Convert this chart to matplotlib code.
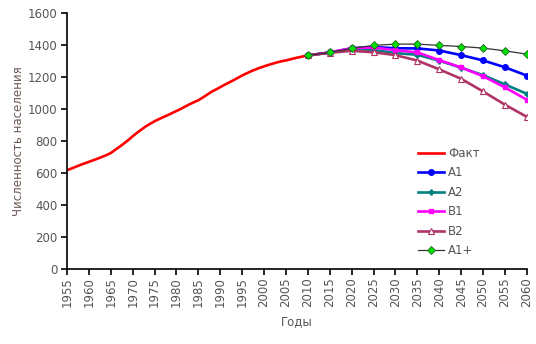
import numpy as np
import matplotlib
matplotlib.use("Agg")
import matplotlib.pyplot as plt

plt.rcParams.update({"font.family": "DejaVu Sans", "font.size": 8.5})

# Фактическая численность (ежегодно), млн
fact_years = np.arange(1955, 2011)
fact = [618, 628, 639, 650, 660, 670, 680, 690, 701, 712,
        725, 745, 764, 785, 806, 830, 852, 872, 892, 908,
        924, 937, 950, 962, 975, 988, 1001, 1016, 1030, 1043,
        1055, 1072, 1090, 1108, 1122, 1137, 1152, 1166, 1180, 1195,
        1210, 1223, 1236, 1247, 1258, 1267, 1276, 1284, 1292, 1299,
        1304, 1311, 1318, 1324, 1330, 1335]

# Сценарии прогноза, шаг 5 лет
scen_years = np.arange(2010, 2061, 5)
a1 = [1335, 1354, 1380, 1388, 1380, 1379, 1366, 1337, 1304, 1261, 1209]
a2 = [1335, 1354, 1375, 1370, 1350, 1339, 1302, 1258, 1212, 1154, 1095]
b1 = [1335, 1354, 1380, 1385, 1368, 1354, 1306, 1260, 1205, 1135, 1058]
b2 = [1335, 1352, 1364, 1355, 1337, 1303, 1248, 1189, 1110, 1027, 951]
a1p = [1335, 1354, 1379, 1398, 1406, 1406, 1398, 1391, 1381, 1364, 1343]

txt = "#555555"

fig = plt.figure(figsize=(5.36, 3.44), dpi=100)
ax = fig.add_axes([0.125, 0.218, 0.858, 0.744])

ax.plot(fact_years, fact, color="#ff0000", lw=1.9, label="Факт")
ax.plot(scen_years, a1, color="#0000ff", lw=1.9, marker="o", ms=4, label="A1")
ax.plot(scen_years, a2, color="#008080", lw=1.9, marker="P", ms=3.5, label="A2")
ax.plot(scen_years, b1, color="#ff00ff", lw=1.9, marker="s", ms=3.5, label="B1")
ax.plot(scen_years, b2, color="#b03366", lw=1.9, marker="^", ms=4,
        mfc="white", mec="#b03366", mew=0.8, label="B2")
ax.plot(scen_years, a1p, color="#333333", lw=0.9, marker="D", ms=4.5,
        mfc="#00dd00", mec="#226622", mew=0.6, label="A1+")

ax.set_xlim(1955, 2060)
ax.set_ylim(0, 1600)
ax.set_xticks(np.arange(1955, 2061, 5))
ax.set_yticks(np.arange(0, 1601, 200))
ax.tick_params(axis="x", rotation=90, colors=txt, length=4, pad=2)
ax.tick_params(axis="y", colors=txt, length=4, pad=3)
for s in ("top", "right"):
    ax.spines[s].set_visible(False)
for s in ("left", "bottom"):
    ax.spines[s].set_color("black")
    ax.spines[s].set_linewidth(1.2)
ax.tick_params(axis="both", color="black", width=1.2)

ax.set_xlabel("Годы", color=txt, labelpad=6)
ax.set_ylabel("Численность населения", color="#6b5a55", labelpad=2)

ax.legend(loc="upper left", bbox_to_anchor=(0.754, 0.496), frameon=False,
          handlelength=2.2, labelspacing=0.55, handletextpad=0.3,
          borderaxespad=0, labelcolor=txt)

fig.savefig("out.png", dpi=100)
